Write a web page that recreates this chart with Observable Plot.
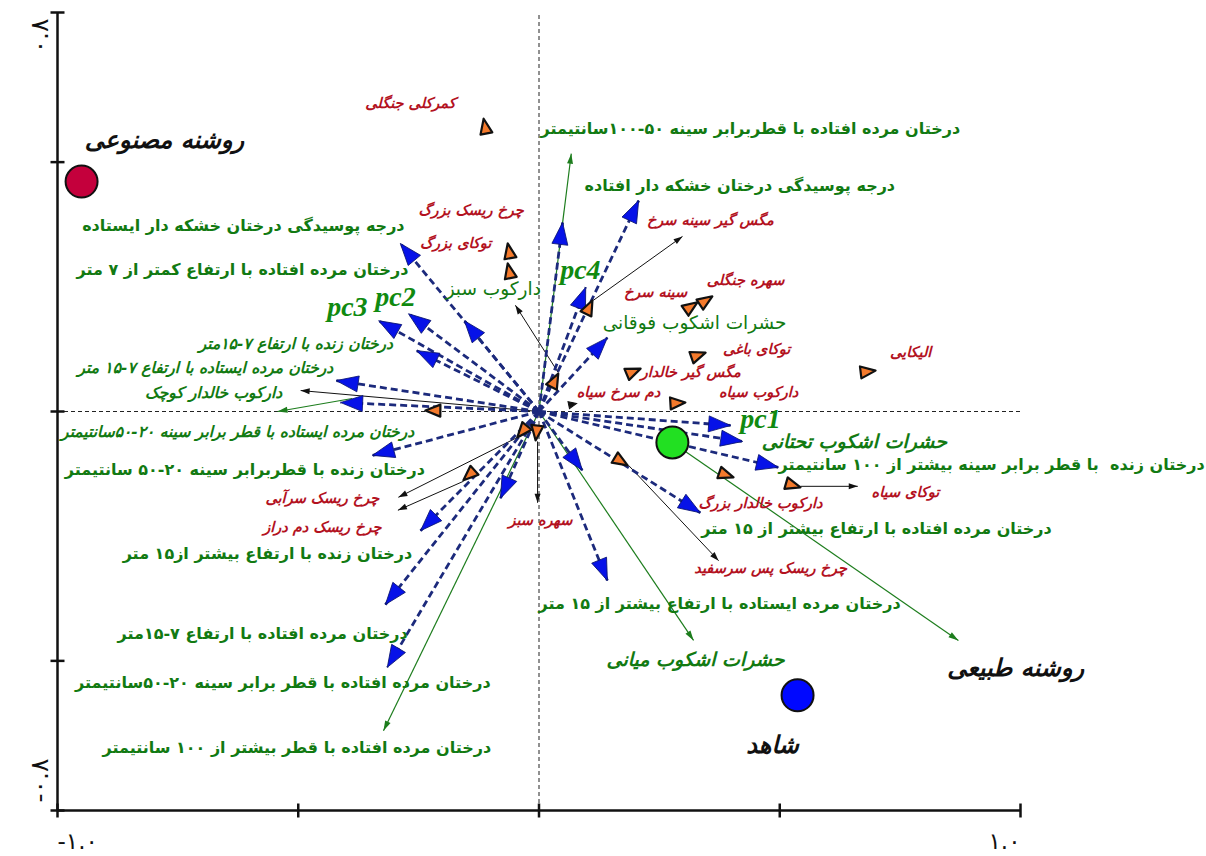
<!DOCTYPE html>
<html><head><meta charset="utf-8">
<script src="https://cdn.jsdelivr.net/npm/d3@7"></script>
<script src="https://cdn.jsdelivr.net/npm/@observablehq/plot@0.6"></script>
<style>body{margin:0;background:#fff;overflow:hidden} #chart svg{display:block}</style>
</head><body><div id="chart"></div>
<script>
// ---------- data (ordination scores) ----------
const xTicks = [-1, -0.5, 0, 0.5, 1];
const yTicks = [-0.8, -0.5, 0, 0.5, 0.8];
const xTickLabels = ["-۱.۰", "۱.۰"];
const yTickLabels = ["۰.۸", "-۰.۸"];

// blue dashed vectors (tips), from origin
const vectorX = [-0.288,-0.155,-0.271,-0.333,-0.254,-0.421,-0.412,-0.346,-0.246,-0.319,-0.315,-0.080,0.090,0.142,0.335,0.497,0.423,0.398,0.142,0.097,0.049,0.207];
const vectorY = [0.337,0.182,0.196,0.182,0.122,0.062,0.018,-0.088,-0.239,-0.387,-0.513,-0.174,-0.118,-0.339,-0.203,-0.112,-0.060,-0.028,0.148,0.249,0.379,0.423];

// green supplementary arrows [x1,y1,x2,y2]
const greenArrows = [
  [0, 0, 0.067, 0.517],
  [-0.388, 0.026, -0.543, 0.0],
  [0, 0, -0.323, -0.640],
  [0, 0, 0.321, -0.459],
  [0.277, -0.062, 0.871, -0.459]
];

// black species arrows [x1,y1,x2,y2]
const blackArrows = [
  [0.040, 0.078, -0.049, 0.213],
  [0.113, 0.223, 0.298, 0.351],
  [0, 0, -0.495, 0.042],
  [-0.003, -0.060, -0.003, -0.183],
  [0.186, -0.108, 0.373, -0.299],
  [0.543, -0.150, 0.662, -0.150],
  [-0.045, -0.052, -0.292, -0.172],
  [-0.157, -0.140, -0.293, -0.198]
];

// species markers (orange triangles)
const speciesX = [-0.115,-0.065,-0.065,0.111,0.329,0.360,0.346,0.211,0.304,0.699,0.040,-0.236,-0.045,-0.007,-0.157,0.184,0.404,0.543];
const speciesY = [0.587,0.337,0.297,0.223,0.219,0.231,0.118,0.086,0.018,0.082,0.076,0.002,-0.052,-0.058,-0.138,-0.108,-0.132,-0.152];
const smallSpeciesX = [0.078];
const smallSpeciesY = [0.016];

// samples
const sampleX = [-0.950, 0.277, 0.537];
const sampleY = [0.461, -0.062, -0.569];
const sampleColors = ["#c4003c", "#22e022", "#0008ff"];

// sample labels
const sampleLabels = ["روشنه مصنوعی", "روشنه طبیعی", "شاهد"];
const sampleLabelX = [-0.778, 0.990, 0.485];
const sampleLabelY = [0.543, -0.515, -0.670];

// species labels (red)
const speciesNames = ["کمرکلی جنگلی","چرخ ریسک بزرگ","توکای بزرگ","مگس گیر سینه سرخ","سهره جنگلی","سینه سرخ","توکای باغی","مگس گیر خالدار","دم سرخ سیاه","دارکوب سیاه","الیکایی","توکای سیاه","دارکوب خالدار بزرگ","چرخ ریسک پس سرسفید","سهره سبز","چرخ ریسک سرآبی","چرخ ریسک دم دراز"];
const speciesLabelX = [-0.267,-0.141,-0.173,0.356,0.429,0.242,0.452,0.315,0.165,0.456,0.772,0.761,0.460,0.481,0.003,-0.450,-0.450];
const speciesLabelY = [0.618,0.403,0.337,0.383,0.263,0.239,0.124,0.078,0.038,0.038,0.118,-0.162,-0.184,-0.315,-0.219,-0.174,-0.233];

// environmental labels (green, bold upright)
const envNames = [
  "درختان مرده افتاده با قطربرابر سینه ۵۰-۱۰۰سانتیمتر",
  "درجه پوسیدگی درختان خشکه دار افتاده",
  "درجه پوسیدگی درختان خشکه دار ایستاده",
  "درختان مرده افتاده با ارتفاع کمتر از ۷ متر",
  "درختان زنده  با قطر برابر سینه بیشتر از ۱۰۰ سانتیمتر",
  "درختان زنده با قطربرابر سینه ۲۰-۵۰ سانتیمتر",
  "درختان مرده افتاده با ارتفاع بیشتر از ۱۵ متر",
  "درختان زنده با ارتفاع بیشتر از۱۵ متر",
  "درختان مرده ایستاده با ارتفاع بیشتر از ۱۵ متر",
  "درختان مرده افتاده با ارتفاع ۷-۱۵متر",
  "درختان مرده افتاده با قطر برابر سینه ۲۰-۵۰سانتیمتر",
  "درختان مرده افتاده با قطر بیشتر از ۱۰۰ سانتیمتر"
];
const envLabelX = [0.439,0.417,-0.614,-0.616,0.940,-0.611,0.701,-0.564,0.375,-0.574,-0.532,-0.503];
const envLabelY = [0.567,0.453,0.373,0.283,-0.108,-0.118,-0.235,-0.285,-0.385,-0.445,-0.545,-0.674];

// green plain labels
const plainNames = ["حشرات اشکوب فوقانی", "دارکوب سبز"];
const plainX = [0.323, -0.095];
const plainY = [0.178, 0.245];

// green slanted labels (trees)
const envItalicNames = [
  "درختان زنده با ارتفاع ۷-۱۵متر",
  "درختان مرده ایستاده با ارتفاع ۷-۱۵ متر",
  "دارکوب خالدار کوچک",
  "درختان مرده ایستاده با قطر برابر سینه ۲۰-۵۰سانتیمتر"
];
const envItalicX = [-0.505,-0.693,-0.676,-0.626];
const envItalicY = [0.136,0.088,0.038,-0.042];

// green slanted labels (insects)
const insectNames = ["حشرات اشکوب تحتانی", "حشرات اشکوب میانی"];
const insectX = [0.655, 0.325];
const insectY = [-0.060, -0.499];

// principal component labels
const pcNames = ["pc1","pc2","pc3","pc4"];
const pcX = [0.460,-0.298,-0.398,0.086];
const pcY = [-0.016,0.229,0.209,0.283];

// ---------- layout ----------
const W = 1206, H = 856, ML = 57, MR = 186, MT = 12, MB = 46;
const KX = (W - ML - MR) / 2, KY = (H - MT - MB) / 1.6;
const ang = (dx, dy) => Math.atan2(dx * KX, dy * KY) * 180 / Math.PI;
const headSym = (L, w) => ({draw(c) { c.moveTo(0, 0); c.lineTo(-w / 2, L); c.lineTo(w / 2, L); c.closePath(); }});
const tickSym = {draw(c) { c.moveTo(0, -7); c.lineTo(0, 7); }};

const vectors = vectorX.map((x, i) => ({x, y: vectorY[i]}));
const species = speciesX.map((x, i) => ({x, y: speciesY[i]}));
const smallSp = smallSpeciesX.map((x, i) => ({x, y: smallSpeciesY[i]}));
const samples = sampleX.map((x, i) => ({x, y: sampleY[i], c: sampleColors[i]}));
const green = "#127a12", red = "#b3121f", navy = "#1c2a7c";
const FF = "DejaVu Sans, sans-serif";
const at = (xs, ys) => ({x: (d, i) => xs[i], y: (d, i) => ys[i], text: d => d, textAnchor: "middle"});

const plot = Plot.plot({
  width: W, height: H,
  marginLeft: ML, marginRight: MR, marginTop: MT, marginBottom: MB,
  x: {domain: [-1, 1], axis: null},
  y: {domain: [-0.8, 0.8], axis: null},
  color: {type: "identity"},
  style: {fontFamily: FF, background: "white", overflow: "visible"},
  marks: [
    // zero lines
    Plot.ruleY([0], {x1: -1, x2: 1, stroke: "#222", strokeWidth: 1, strokeDasharray: "4,3"}),
    Plot.ruleX([0], {y1: -0.8, y2: 0.8, stroke: "#222", strokeWidth: 1, strokeDasharray: "4,3"}),
    // frame axes
    Plot.ruleX([-1], {y1: -0.8, y2: 0.8, stroke: "#111", strokeWidth: 2.5}),
    Plot.ruleY([-0.8], {x1: -1, x2: 1, stroke: "#111", strokeWidth: 2.5}),
    Plot.dot(xTicks, {x: d => d, y: () => -0.8, symbol: tickSym, fill: "none", stroke: "#111", strokeWidth: 2.5}),
    Plot.dot(yTicks, {x: () => -1, y: d => d, symbol: tickSym, rotate: 90, fill: "none", stroke: "#111", strokeWidth: 2.5}),
    Plot.text([xTickLabels[0]], {x: -1, y: -0.8, dy: 31, textAnchor: "start", fontSize: 23, fill: "#111"}),
    Plot.text([xTickLabels[1]], {x: 1, y: -0.8, dy: 31, textAnchor: "end", fontSize: 23, fill: "#111"}),
    Plot.text([yTickLabels[0]], {x: -1, y: 0.8, dx: -18, dy: 6, rotate: -90, textAnchor: "end", fontSize: 25, fill: "#111"}),
    Plot.text([yTickLabels[1]], {x: -1, y: -0.8, dx: -18, dy: -8, rotate: -90, textAnchor: "start", fontSize: 25, fill: "#111"}),

    // green supplementary arrows
    Plot.link(greenArrows, {x1: d => d[0], y1: d => d[1], x2: d => d[2], y2: d => d[3], stroke: "#1d7d1d", strokeWidth: 1.2}),
    Plot.dot(greenArrows, {x: d => d[2], y: d => d[3], symbol: headSym(10, 6), fill: "#1d7d1d", stroke: "none",
      rotate: d => ang(d[2] - d[0], d[3] - d[1])}),

    // black species arrows
    Plot.link(blackArrows, {x1: d => d[0], y1: d => d[1], x2: d => d[2], y2: d => d[3], stroke: "#111", strokeWidth: 1}),
    Plot.dot(blackArrows, {x: d => d[2], y: d => d[3], symbol: headSym(9, 6), fill: "#111", stroke: "none",
      rotate: d => ang(d[2] - d[0], d[3] - d[1])}),

    // blue dashed vectors
    Plot.link(vectors, {x1: 0, y1: 0, x2: "x", y2: "y", stroke: navy, strokeWidth: 2.8, strokeDasharray: "7,4"}),
    Plot.dot(vectors, {x: "x", y: "y", symbol: headSym(22, 16), fill: "#0612e8", stroke: "#0a1470", strokeWidth: 0.8,
      rotate: d => ang(d.x, d.y)}),

    // species triangles
    Plot.dot(species, {x: "x", y: "y", symbol: headSym(15, 12), fill: "#f47a2c", stroke: "#111", strokeWidth: 2.2,
      strokeLinejoin: "round", rotate: d => ang(d.x, d.y)}),
    Plot.dot(smallSp, {x: "x", y: "y", symbol: headSym(8, 7), fill: "#111", stroke: "#111", strokeWidth: 1,
      rotate: d => ang(d.x, d.y)}),

    // samples
    Plot.dot(samples, {x: "x", y: "y", r: 16, fill: "c", stroke: "#111", strokeWidth: 2}),

    // labels
    Plot.text(pcNames, {...at(pcX, pcY), fill: "#108a10",
      fontFamily: "Liberation Serif, serif", fontStyle: "italic", fontWeight: "bold", fontSize: 28}),
    Plot.text(envNames, {...at(envLabelX, envLabelY), fill: green, fontWeight: "bold", fontSize: 16}),
    Plot.text(plainNames, {...at(plainX, plainY), fill: green, fontWeight: "normal", fontSize: 18.5}),
    Plot.text(envItalicNames, {...at(envItalicX, envItalicY), fill: green, fontWeight: "bold", fontStyle: "italic", fontSize: 15.5}),
    Plot.text(insectNames, {...at(insectX, insectY), fill: green, fontWeight: "bold", fontStyle: "italic", fontSize: 19}),
    Plot.text(speciesNames, {...at(speciesLabelX, speciesLabelY), fill: red, fontWeight: "bold", fontStyle: "italic", fontSize: 14.5}),
    Plot.text(sampleLabels, {...at(sampleLabelX, sampleLabelY), fill: "#111", fontWeight: "bold", fontStyle: "italic", fontSize: 24})
  ]
});
document.getElementById("chart").appendChild(plot);
</script></body></html>
